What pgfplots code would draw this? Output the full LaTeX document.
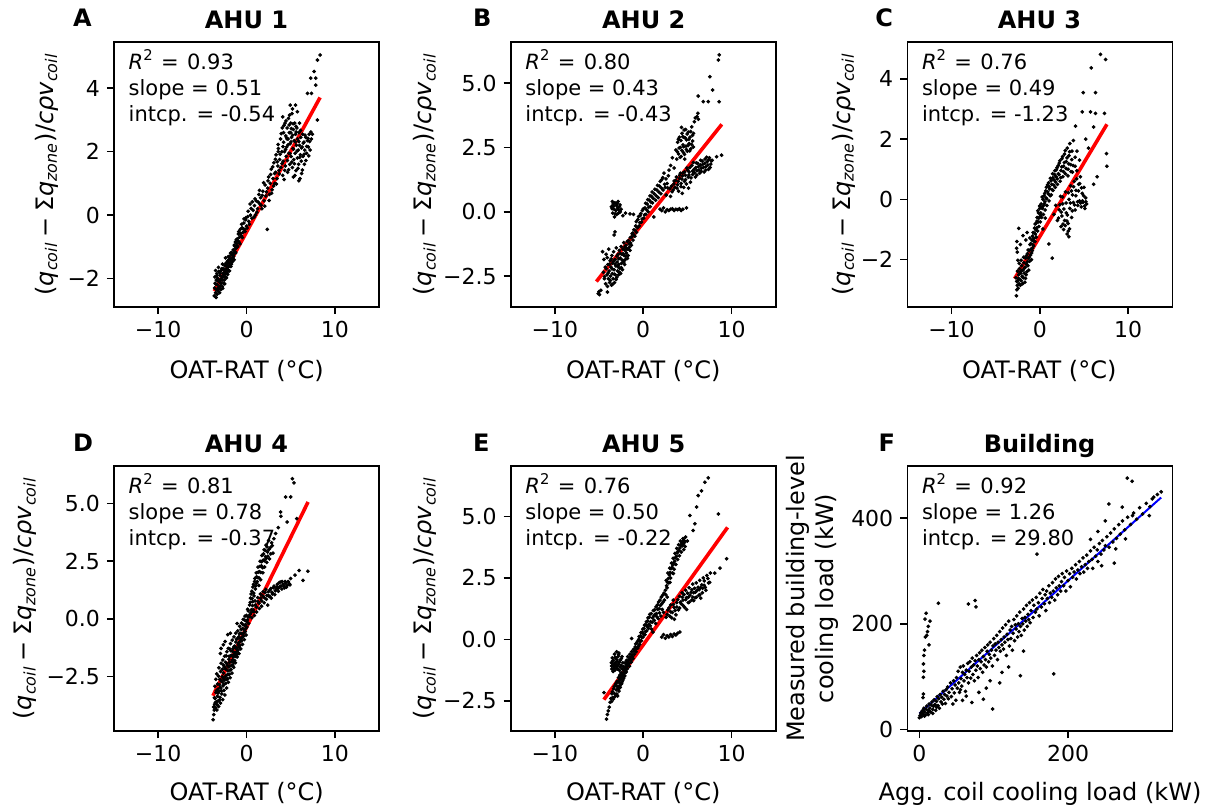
\documentclass[border=0pt]{standalone}
\usepackage{pgfplots}
\pgfplotsset{compat=1.18}
\usepackage{pgfplotstable}
\usepackage{fontspec}
\setmainfont{DejaVu Sans}

% ---------------- Panel A ----------------
\pgfplotstableread[row sep=\\]{
x y\\
-3.65 -2.55\\ -3.6 -2.3\\ -3.58 -1.95\\ -3.55 -2.15\\ -3.5 -2.45\\ -3.5 -1.75\\ -3.45 -2.6\\ -3.42 -2.05\\ -3.4 -2.35\\ -3.35 -1.85\\
-3.32 -2.5\\ -3.3 -2.2\\ -3.25 -2.0\\ -3.2 -2.4\\ -3.18 -1.65\\ -3.15 -2.28\\ -3.1 -2.1\\ -3.05 -2.45\\ -3.02 -1.9\\ -3.0 -2.25\\
-2.95 -2.05\\ -2.9 -2.35\\ -2.88 -1.75\\ -2.85 -2.15\\ -2.8 -1.95\\ -2.75 -2.25\\ -2.72 -1.55\\ -2.7 -2.05\\ -2.65 -1.85\\ -2.6 -2.15\\
-2.58 -1.7\\ -2.55 -1.95\\ -2.5 -2.05\\ -2.45 -1.6\\ -2.42 -1.85\\ -2.38 -1.35\\ -2.35 -1.95\\ -2.3 -1.7\\ -2.25 -1.55\\ -2.2 -1.8\\
-2.15 -1.45\\ -2.1 -1.65\\ -2.05 -1.75\\ -2.0 -1.4\\ -1.95 -1.6\\ -1.9 -1.3\\ -1.85 -1.5\\ -1.8 -1.2\\ -1.75 -1.4\\ -1.7 -1.55\\
-1.62 -1.25\\ -1.55 -1.35\\ -1.5 -1.1\\ -1.45 -1.3\\ -1.38 -0.95\\ -1.3 -1.15\\ -1.25 -0.85\\ -1.2 -1.05\\ -1.12 -0.9\\ -1.05 -0.75\\
-1.0 -1.0\\ -0.92 -0.6\\ -0.85 -0.85\\ -0.78 -0.7\\ -0.7 -0.45\\ -0.6 -0.65\\ -0.5 -0.4\\ -0.42 -0.55\\ -0.3 -0.25\\ -0.2 -0.45\\
-0.1 -0.15\\ 0.0 -0.35\\ 0.15 -0.05\\ 0.25 -0.2\\ 0.4 0.35\\ 0.45 0.0\\ 0.6 -0.1\\ 0.75 0.15\\ 0.9 0.3\\ 1.0 0.0\\
1.1 0.45\\ 1.25 0.2\\ 1.4 0.65\\ 1.5 0.35\\ 1.6 0.55\\ 1.75 0.2\\ 1.85 0.75\\ 2.0 0.45\\ 2.1 0.95\\ 2.2 0.6\\
2.35 -0.45\\ 2.4 0.85\\ 2.5 1.2\\ 2.6 0.65\\ 2.7 1.0\\ 2.8 1.45\\ 2.9 0.8\\ 3.0 1.15\\ 3.1 1.65\\ 3.2 1.0\\
3.3 1.35\\ 3.35 1.9\\ 3.45 1.15\\ 3.55 1.55\\ 3.6 2.1\\ 3.7 1.3\\ 3.75 1.75\\ 3.85 2.4\\ 3.9 1.5\\ 4.0 2.0\\
4.05 2.75\\ 4.1 1.25\\ 4.15 1.7\\ 4.2 2.3\\ 4.3 2.0\\ 4.35 2.9\\ 4.4 1.55\\ 4.45 2.5\\ 4.5 1.85\\ 4.55 2.15\\
4.6 2.75\\ 4.65 1.35\\ 4.7 2.4\\ 4.75 3.05\\ 4.8 1.95\\ 4.85 2.6\\ 4.9 1.6\\ 4.95 2.25\\ 5.0 2.9\\ 5.05 1.85\\
5.1 2.45\\ 5.15 3.2\\ 5.2 1.5\\ 5.25 2.1\\ 5.3 2.7\\ 5.35 1.75\\ 5.4 2.35\\ 5.45 2.9\\ 5.5 1.95\\ 5.55 2.55\\
5.6 1.4\\ 5.65 2.2\\ 5.7 2.75\\ 5.75 1.8\\ 5.8 2.4\\ 5.85 2.05\\ 5.9 1.6\\ 5.95 2.6\\ 6.0 2.2\\ 6.05 1.15\\
6.1 1.9\\ 6.15 2.45\\ 6.2 1.7\\ 6.3 2.15\\ 6.35 2.55\\ 6.4 1.85\\ 6.5 2.3\\ 6.55 1.6\\ 6.6 2.05\\ 6.7 2.45\\
6.8 1.95\\ 6.9 2.35\\ 7.0 2.15\\ 7.1 2.55\\ 7.2 2.05\\ 7.35 2.4\\ 7.45 2.55\\ 4.6 2.4\\ 5.0 2.6\\ 5.3 1.2\\
5.6 2.8\\ 6.0 2.9\\ 4.2 2.6\\ 3.6 2.0\\ 4.95 3.47\\ 5.55 3.47\\ 5.75 3.26\\ 5.2 3.35\\ 6.9 3.84\\ 7.35 3.84\\
7.27 4.32\\ 7.84 4.32\\ 7.84 4.1\\ 7.65 4.53\\ 8.03 4.89\\ 8.33 5.05\\ 8.03 3.0\\ 4.1 3.1\\
-3.47 -2.18\\ -3.38 -1.92\\ -3.29 -2.33\\ -3.21 -2.07\\ -3.13 -1.78\\ -3.07 -2.31\\ -2.97 -1.83\\ -2.93 -2.14\\ -2.83 -2.02\\ -2.77 -1.69\\
-2.69 -2.31\\ -2.63 -1.93\\ -2.53 -1.81\\ -2.47 -2.17\\ -2.39 -1.74\\ -2.33 -1.52\\ -2.27 -1.98\\ -2.19 -1.63\\ -2.13 -1.87\\ -2.07 -1.31\\
-1.97 -1.52\\ -1.92 -1.76\\ -1.83 -1.39\\ -1.77 -1.62\\ -1.68 -1.18\\ -1.58 -1.47\\ -1.49 -1.23\\ -1.41 -1.41\\ -1.33 -0.98\\ -1.22 -1.19\\
-1.16 -0.78\\ -1.08 -0.97\\ -0.97 -0.81\\ -0.88 -0.52\\ -0.74 -0.91\\ -0.66 -0.58\\ -0.55 -0.29\\ -0.47 -0.71\\ -0.36 -0.44\\ -0.27 -0.12\\
-0.16 -0.52\\ -0.06 -0.08\\ 0.07 -0.41\\ 0.18 0.12\\ 0.33 -0.29\\ 0.52 0.21\\ 0.66 0.42\\ 0.83 -0.07\\ 0.96 0.51\\ 1.17 0.09\\
1.33 0.41\\ 1.47 0.78\\ 1.66 0.31\\ 1.79 0.62\\ 1.93 1.02\\ 2.07 0.28\\ 2.26 0.73\\ 2.44 1.08\\ 2.56 0.46\\ 2.73 1.28\\
2.84 0.69\\ 2.97 1.52\\ 3.07 0.92\\ 3.18 1.31\\ 3.27 1.76\\ 3.39 0.98\\ 3.48 1.68\\ 3.58 2.23\\ 3.67 1.41\\ 3.81 1.92\\
3.93 2.57\\ 4.02 1.62\\ 4.13 2.16\\ 4.24 2.83\\ 4.32 1.41\\ 4.42 2.07\\ 4.53 2.44\\ 4.63 1.72\\ 4.72 2.22\\ 4.83 2.84\\
4.92 1.94\\ 5.03 2.31\\ 5.12 1.67\\ 5.22 2.52\\ 5.33 2.08\\ 5.42 1.62\\ 5.52 2.31\\ 5.62 2.62\\ 5.72 2.02\\ 5.83 1.47\\
5.92 2.32\\ 6.02 1.82\\ 6.12 2.67\\ 6.22 2.12\\ 6.33 1.42\\ 6.42 2.27\\ 6.52 1.92\\ 6.62 2.52\\ 6.72 1.72\\ 6.82 2.17\\
6.95 2.42\\ 7.05 1.87\\ 7.15 2.32\\ 7.28 2.62\\ 4.47 2.97\\ 4.87 3.15\\ 5.07 2.73\\ 5.28 2.88\\ 4.26 1.12\\ 4.78 1.43\\
5.47 1.25\\ 5.93 1.08\\ 6.24 1.31\\
}\dataA

% ---------------- Panel B ----------------
\pgfplotstableread[row sep=\\]{
x y\\
-5.1 -3.18\\ -5.0 -3.1\\ -4.95 -3.22\\ -4.8 -3.05\\ -4.05 -3.12\\
-4.6 -1.55\\ -4.5 -2.35\\ -4.45 -1.85\\ -4.4 -2.6\\ -4.3 -2.15\\ -4.25 -2.8\\ -4.2 -1.65\\ -4.1 -2.45\\ -4.05 -2.9\\ -4.0 -2.05\\
-3.95 -2.6\\ -3.9 -1.45\\ -3.85 -2.3\\ -3.8 -2.75\\ -3.75 -1.9\\ -3.7 -2.5\\ -3.65 -2.15\\ -3.6 -2.85\\ -3.55 -1.7\\ -3.5 -2.4\\
-3.45 -2.0\\ -3.4 -2.6\\ -3.35 -1.55\\ -3.3 -2.25\\ -3.25 -2.75\\ -3.2 -1.85\\ -3.15 -2.45\\ -3.1 -2.1\\ -3.05 -1.4\\ -3.0 -2.55\\
-2.95 -1.95\\ -2.9 -2.3\\ -2.85 -1.65\\ -2.8 -2.45\\ -2.75 -2.05\\ -2.7 -1.5\\ -2.65 -2.2\\ -2.6 -1.8\\ -2.55 -2.4\\ -2.5 -1.35\\
-2.45 -2.0\\ -2.4 -1.65\\ -2.35 -2.25\\ -2.3 -1.45\\ -2.25 -1.9\\ -2.2 -1.2\\ -2.15 -1.7\\ -2.1 -2.05\\ -2.05 -1.5\\ -2.0 -1.85\\
-1.95 -1.3\\ -1.9 -1.6\\ -1.8 -1.15\\ -1.75 -1.45\\ -1.7 -1.7\\ -1.6 -1.25\\ -1.5 -1.5\\ -1.45 -1.0\\ -1.35 -1.3\\ -1.25 -0.85\\
-1.15 -1.1\\ -1.05 -0.7\\ -0.95 -0.95\\ -0.85 -0.55\\ -0.75 -0.8\\ -3.3 -0.9\\ -3.2 -0.78\\
-3.6 0.2\\ -3.5 0.4\\ -3.45 -0.05\\ -3.4 0.3\\ -3.3 0.1\\ -3.25 -0.2\\ -3.2 0.35\\ -3.1 0.05\\ -3.05 0.25\\ -3.0 -0.1\\
-2.9 0.15\\ -2.85 0.4\\ -2.8 -0.05\\ -2.7 0.2\\ -2.6 0.0\\ -2.5 0.1\\ -2.3 -0.15\\ -2.0 -0.05\\ -1.5 -0.08\\ -1.1 -0.1\\
-0.6 -0.3\\ -0.45 -0.55\\ -0.35 -0.15\\ -0.2 -0.4\\ -0.1 0.05\\ 0.05 -0.25\\ 0.2 0.15\\ 0.3 -0.1\\ 0.45 0.3\\ 0.55 0.0\\
0.7 0.45\\ 0.8 0.2\\ 0.95 0.6\\ 1.05 0.35\\ 1.2 -0.2\\ 1.25 0.7\\ 1.4 0.45\\ 1.55 0.85\\ 1.7 0.55\\ 1.85 1.0\\
2.0 0.7\\ 2.1 1.25\\ 2.25 0.85\\ 2.35 1.5\\ 2.5 0.95\\ 2.6 0.65\\ 2.7 1.1\\ 2.85 1.4\\ 3.0 0.9\\
1.9 0.1\\ 2.1 0.05\\ 2.3 0.15\\ 2.5 0.0\\ 2.7 0.08\\ 2.9 0.05\\ 3.1 0.1\\ 3.3 0.12\\ 3.5 0.05\\ 3.7 0.1\\
3.9 0.08\\ 4.1 0.12\\ 4.3 0.05\\ 4.5 0.1\\ 4.9 0.15\\
3.1 1.8\\ 3.3 2.1\\ 3.5 1.7\\ 3.7 2.4\\ 3.8 2.05\\ 3.9 2.7\\ 4.0 2.25\\ 4.1 2.9\\ 4.2 2.5\\ 4.3 2.15\\
4.4 3.05\\ 4.5 2.6\\ 4.55 2.3\\ 4.6 2.9\\ 4.7 2.05\\ 4.8 3.2\\ 4.85 2.55\\ 4.9 2.8\\ 5.0 2.35\\ 5.1 3.1\\
5.2 2.65\\ 5.3 2.9\\ 5.4 2.45\\ 5.5 3.3\\ 5.6 2.75\\ 5.7 3.05\\ 5.8 3.5\\ 5.9 3.65\\ 6.1 3.7\\ 6.2 3.83\\ 6.25 3.6\\
3.1 0.6\\ 3.2 1.0\\ 3.4 0.85\\ 3.5 1.2\\ 3.6 0.95\\ 3.75 1.35\\ 3.9 1.05\\ 4.0 0.8\\ 4.1 1.3\\ 4.2 1.5\\
4.3 1.1\\ 4.45 1.4\\ 4.6 0.95\\ 4.7 1.55\\ 4.8 1.25\\ 4.95 1.7\\ 5.1 1.35\\ 5.2 1.55\\ 5.35 1.15\\ 5.5 1.8\\
5.6 1.45\\ 5.75 1.65\\ 5.9 1.35\\ 6.0 1.9\\ 6.1 1.6\\ 6.25 1.75\\ 6.4 1.5\\ 6.5 2.0\\ 6.6 1.7\\ 6.75 1.85\\
6.9 1.55\\ 7.0 2.05\\ 7.1 1.75\\ 7.25 1.95\\ 7.4 1.65\\ 7.5 2.1\\ 7.65 1.85\\ 7.8 2.0\\ 8.3 2.14\\ 8.87 2.2\\
6.23 4.5\\ 6.8 4.28\\ 7.36 4.28\\ 7.86 4.73\\ 7.55 5.25\\ 8.6 4.28\\ 8.6 6.1\\ 8.5 5.9\\
-4.37 -2.52\\ -4.18 -2.21\\ -4.07 -1.78\\ -3.97 -2.38\\ -3.82 -2.04\\ -3.73 -2.67\\ -3.63 -1.83\\ -3.53 -2.22\\ -3.47 -2.82\\ -3.38 -1.93\\
-3.28 -2.42\\ -3.17 -2.03\\ -3.07 -2.63\\ -2.97 -1.72\\ -2.87 -2.13\\ -2.78 -1.83\\ -2.68 -2.35\\ -2.58 -1.62\\ -2.48 -2.17\\ -2.38 -1.88\\
-2.28 -1.63\\ -2.18 -1.95\\ -2.08 -1.37\\ -1.98 -1.72\\ -1.87 -1.42\\ -1.78 -1.81\\ -1.67 -1.12\\ -1.57 -1.38\\ -1.42 -1.21\\ -1.32 -0.98\\
-1.18 -0.83\\ -1.02 -0.91\\ -0.91 -0.72\\ -0.78 -0.38\\ -0.64 -0.62\\ -0.52 -0.18\\ -0.38 -0.42\\ -0.27 -0.07\\ -0.13 -0.28\\ 0.02 0.12\\
0.14 -0.12\\ 0.27 0.33\\ 0.38 0.08\\ 0.52 0.47\\ 0.63 0.18\\ 0.77 0.62\\ 0.88 0.38\\ 1.02 0.77\\ 1.13 0.52\\ 1.32 0.88\\
1.47 0.62\\ 1.62 1.03\\ 1.78 0.77\\ 1.93 1.18\\ 2.07 0.92\\ 2.22 1.33\\ 2.42 1.07\\ 2.57 1.28\\ 2.77 0.93\\ 2.93 1.62\\
-3.52 0.12\\ -3.37 0.22\\ -3.18 -0.08\\ -2.97 0.32\\ -2.77 0.08\\ -2.63 0.27\\
3.87 2.33\\ 3.98 2.82\\ 4.08 2.48\\ 4.17 2.12\\ 4.27 2.77\\ 4.38 2.38\\ 4.47 2.92\\ 4.58 2.53\\ 4.68 2.23\\ 4.77 2.87\\
4.88 2.42\\ 4.97 3.02\\ 5.07 2.57\\ 5.18 2.82\\ 5.27 2.37\\ 5.38 3.12\\ 5.48 2.62\\ 5.58 2.97\\ 5.67 2.52\\ 4.33 3.28\\ 4.63 3.18\\
3.27 0.78\\ 3.47 1.08\\ 3.67 1.22\\ 3.83 0.92\\ 3.97 1.18\\ 4.13 1.42\\ 4.27 0.98\\ 4.38 1.27\\ 4.53 1.52\\ 4.67 1.18\\
4.78 1.42\\ 4.88 1.08\\ 5.03 1.62\\ 5.17 1.43\\ 5.28 1.72\\ 5.42 1.32\\ 5.57 1.58\\ 5.68 1.92\\ 5.82 1.52\\ 5.97 1.72\\
6.07 1.43\\ 6.18 1.88\\ 6.33 1.62\\ 6.47 1.82\\ 6.57 1.57\\ 6.68 1.97\\ 6.82 1.72\\ 6.97 1.88\\ 7.07 1.62\\ 7.18 2.12\\
7.32 1.82\\ 7.43 2.02\\ 7.58 1.72\\ 7.72 1.98\\ 5.13 0.92\\ 4.42 0.72\\
}\dataB

% ---------------- Panel C ----------------
\pgfplotstableread[row sep=\\]{
x y\\
-2.65 -3.2\\ -2.6 -3.0\\ -2.55 -2.85\\ -2.7 -2.6\\ -2.5 -2.7\\ -2.45 -2.95\\ -2.4 -2.5\\ -2.35 -2.8\\ -2.3 -2.3\\ -2.25 -2.65\\
-2.2 -2.85\\ -2.15 -2.45\\ -2.1 -2.7\\ -2.05 -2.2\\ -2.0 -2.55\\ -1.95 -2.8\\ -1.9 -2.35\\ -1.85 -2.6\\ -1.8 -2.1\\ -1.75 -2.45\\
-1.7 -2.75\\ -1.65 -2.25\\ -1.6 -1.95\\ -1.55 -2.5\\ -1.5 -2.15\\ -1.45 -2.4\\ -1.4 -1.8\\ -1.35 -2.2\\ -1.3 -1.95\\ -1.25 -2.35\\
-1.2 -1.7\\ -1.15 -2.05\\ -1.1 -1.5\\ -1.05 -1.85\\ -1.0 -1.65\\ -0.95 -2.0\\ -0.9 -1.35\\ -0.85 -1.7\\ -0.8 -1.5\\ -0.75 -1.1\\
-0.7 -1.55\\ -0.65 -1.3\\ -0.6 -0.95\\ -0.55 -1.4\\ -0.5 -1.15\\ -0.45 -0.8\\ -0.4 -1.25\\ -0.35 -0.95\\ -0.3 -0.6\\ -0.25 -1.05\\
-0.2 -0.75\\ -0.15 -0.45\\ -0.1 -0.9\\ -0.05 -0.6\\ 0.0 -0.3\\ 0.05 -0.75\\ 0.1 -0.45\\ 0.15 -0.15\\ 0.2 -0.6\\ 0.3 -0.3\\
0.35 0.0\\ 0.4 -0.5\\ 0.5 -0.15\\ 0.55 0.2\\ 0.6 -0.35\\ 0.7 0.05\\ 0.75 0.4\\ 0.8 -0.2\\ 0.9 0.25\\ 1.0 0.55\\
1.05 -0.05\\ 1.1 0.35\\ 1.2 0.7\\ 1.3 0.15\\ 1.35 0.5\\ 1.45 0.85\\ 1.5 0.3\\ 1.6 0.65\\ 1.7 0.95\\ 1.75 0.4\\
1.85 0.75\\ 1.95 1.05\\ 2.0 0.5\\ 2.1 0.85\\ 2.2 1.2\\ 2.3 0.6\\ 2.4 0.95\\ 2.5 1.35\\ 2.6 0.75\\ 2.7 1.1\\
2.8 1.5\\ 2.9 0.85\\ 3.0 1.25\\ 3.1 1.7\\ 3.2 1.0\\ 3.3 1.45\\ 3.4 1.85\\ 3.5 1.15\\ 3.65 1.6\\ 3.8 1.95\\
4.0 1.4\\ 4.05 2.43\\ -2.38 -0.96\\ -1.43 -1.1\\ -2.6 -1.4\\ -2.55 -1.75\\ -2.2 -1.5\\ -1.9 -1.2\\ 1.02 -1.48\\ 1.4 -1.95\\
1.6 -0.5\\ 1.8 -0.2\\ 2.0 -0.7\\ 2.2 -0.35\\ 2.35 0.1\\ 2.4 -0.9\\ 2.5 -0.55\\ 2.6 -0.15\\ 2.7 -1.0\\ 2.8 -0.7\\
2.9 0.25\\ 3.0 -0.45\\ 3.1 -1.15\\ 3.2 -0.8\\ 3.3 -1.24\\ 3.3 0.0\\ 3.4 -0.3\\ 3.5 0.45\\ 3.6 -0.6\\ 3.7 0.15\\
3.8 -0.1\\ 3.9 0.6\\ 4.0 -0.35\\ 4.1 0.3\\ 4.2 0.95\\ 4.3 -0.2\\ 4.4 0.5\\ 4.5 -0.05\\ 4.6 0.75\\ 4.7 -0.25\\
4.8 0.2\\ 4.9 -0.1\\ 5.0 0.4\\ 5.1 -0.3\\ 5.2 0.05\\ 5.3 -0.15\\ 4.5 1.3\\ 4.2 1.6\\ 3.7 0.9\\ 4.0 1.1\\
6.87 4.81\\ 7.44 4.64\\ 5.82 4.36\\ 4.91 3.54\\ 6.31 3.54\\ 4.8 2.9\\ 5.74 2.9\\ 6.3 2.85\\ 7.32 2.85\\ 6.1 2.4\\
7.55 1.52\\ 7.6 1.1\\ 6.5 0.75\\ 6.1 0.5\\ 5.5 1.7\\ 5.2 2.0\\
-2.62 -2.72\\ -2.53 -2.38\\ -2.42 -2.62\\ -2.33 -2.12\\ -2.23 -2.42\\ -2.12 -2.02\\ -2.03 -2.36\\ -1.93 -2.58\\ -1.82 -1.92\\ -1.73 -2.28\\
-1.62 -2.62\\ -1.53 -1.87\\ -1.42 -2.07\\ -1.32 -1.68\\ -1.22 -1.93\\ -1.12 -1.28\\ -1.02 -1.47\\ -0.92 -1.78\\ -0.83 -1.22\\ -0.72 -1.38\\
-0.62 -1.12\\ -0.53 -0.82\\ -0.42 -1.02\\ -0.32 -0.72\\ -0.22 -0.38\\ -0.12 -0.62\\ -0.03 -0.22\\ 0.08 -0.52\\ 0.18 -0.28\\ 0.27 0.08\\
0.38 -0.22\\ 0.48 0.12\\ 0.58 -0.08\\ 0.68 0.28\\ 0.78 0.02\\ 0.88 0.48\\ 0.97 0.18\\ 1.08 0.42\\ 1.18 0.12\\ 1.28 0.62\\
1.38 0.32\\ 1.48 0.72\\ 1.58 0.47\\ 1.68 0.82\\ 1.78 0.58\\ 1.88 0.98\\ 1.98 0.68\\ 2.08 1.12\\ 2.18 0.82\\ 2.28 1.28\\
2.38 0.72\\ 2.48 1.08\\ 2.58 1.42\\ 2.68 0.92\\ 2.78 1.22\\ 2.88 1.62\\ 2.98 1.02\\ 3.08 1.38\\ 3.18 0.78\\ 3.28 1.18\\
3.38 1.58\\ 3.52 0.92\\ 3.62 1.32\\ 3.77 1.12\\
2.12 -0.62\\ 2.28 -0.18\\ 2.43 -0.42\\ 2.58 0.08\\ 2.72 -0.32\\ 2.87 -0.87\\ 2.97 -0.12\\ 3.12 -0.52\\ 3.23 0.22\\ 3.37 -0.98\\
3.47 -0.12\\ 3.58 0.28\\ 3.68 -0.38\\ 3.82 0.42\\ 3.93 -0.18\\ 4.07 0.12\\ 4.18 0.68\\ 4.28 -0.08\\ 4.38 0.28\\ 4.52 0.52\\
4.62 -0.12\\ 4.72 0.38\\ 4.83 -0.05\\ 4.97 0.12\\ 5.08 -0.22\\ 5.22 -0.08\\ 3.22 -1.05\\ 3.07 -0.72\\ 2.62 -0.82\\
-2.62 -1.62\\ -2.48 -2.02\\ -1.58 -1.35\\ -0.85 -1.62\\ 0.35 -0.98\\ 0.62 -0.62\\
}\dataC

% ---------------- Panel D ----------------
\pgfplotstableread[row sep=\\]{
x y\\
-3.78 -4.37\\ -3.7 -4.15\\ -3.65 -3.95\\ -3.6 -3.7\\ -3.55 -3.45\\ -3.5 -3.85\\ -3.45 -3.2\\ -3.4 -3.6\\ -3.35 -3.95\\ -3.3 -3.35\\
-3.25 -3.05\\ -3.2 -3.55\\ -3.15 -3.8\\ -3.1 -3.15\\ -3.05 -2.85\\ -3.0 -3.4\\ -2.95 -1.5\\ -2.95 -3.65\\ -2.9 -3.0\\ -2.85 -2.7\\
-2.8 -3.25\\ -2.75 -2.5\\ -2.7 -3.5\\ -2.65 -2.9\\ -2.6 -2.35\\ -2.55 -3.1\\ -2.5 -2.65\\ -2.45 -3.3\\ -2.4 -2.15\\ -2.35 -2.8\\
-2.3 -2.45\\ -2.25 -3.0\\ -2.2 -1.95\\ -2.15 -2.6\\ -2.1 -2.25\\ -2.05 -2.75\\ -2.0 -1.75\\ -1.95 -2.4\\ -1.9 -2.05\\ -1.85 -2.55\\
-1.82 -1.07\\ -1.8 -1.6\\ -1.75 -2.2\\ -1.7 -1.85\\ -1.65 -2.35\\ -1.6 -1.4\\ -1.55 -2.0\\ -1.5 -1.65\\ -1.45 -2.1\\ -1.4 -1.2\\
-1.35 -1.8\\ -1.3 -1.45\\ -1.25 -1.9\\ -1.2 -1.0\\ -1.15 -1.55\\ -1.1 -1.25\\ -1.06 -0.2\\ -1.05 -1.65\\ -1.0 -0.85\\ -0.95 -1.35\\
-0.9 -1.05\\ -0.85 -1.5\\ -0.8 -0.65\\ -0.75 -1.15\\ -0.7 -0.85\\ -0.65 -1.3\\ -0.6 -0.45\\ -0.55 -0.95\\ -0.5 -0.65\\ -0.45 -1.1\\
-0.4 -0.25\\ -0.35 -0.75\\ -0.3 -0.45\\ -0.25 -0.9\\ -0.2 -0.05\\ -0.15 -0.55\\ -0.1 -0.25\\ -0.05 -0.7\\ 0.0 0.15\\ 0.05 -0.35\\
0.1 -0.05\\ 0.2 0.35\\ 0.25 -0.2\\ 0.3 0.1\\ -2.6 -2.0\\ -2.3 -1.6\\ -1.9 -1.3\\
0.35 0.6\\ 0.45 0.9\\ 0.55 0.4\\ 0.6 1.2\\ 0.7 0.75\\ 0.8 1.5\\ 0.85 1.0\\ 0.95 1.75\\ 1.0 1.3\\ 1.1 2.0\\
1.15 1.55\\ 1.25 1.8\\ 1.3 2.25\\ 1.4 1.45\\ 1.45 2.05\\ 1.55 2.5\\ 1.6 1.7\\ 1.7 2.3\\ 1.75 2.75\\ 1.85 2.0\\
1.9 2.55\\ 2.0 3.0\\ 2.05 2.25\\ 2.15 2.7\\ 2.2 3.2\\ 2.3 2.45\\ 2.4 2.9\\ 2.5 3.4\\ 2.6 2.6\\ 2.7 3.1\\
2.85 3.3\\ 3.0 2.85\\ 3.1 3.48\\
0.4 0.2\\ 0.6 0.05\\ 0.75 0.4\\ 0.9 0.15\\ 1.0 0.6\\ 1.15 0.3\\ 1.3 0.75\\ 1.45 0.45\\ 1.6 0.9\\ 1.7 0.55\\
1.85 1.0\\ 2.0 0.7\\ 2.1 1.15\\ 2.25 0.85\\ 2.4 0.6\\ 2.5 1.0\\ 2.65 1.25\\ 2.8 0.9\\ 2.9 1.15\\ 3.05 1.35\\
3.2 1.05\\ 3.35 1.3\\ 3.5 1.5\\ 3.6 1.2\\ 3.75 1.4\\ 3.9 1.6\\ 4.0 1.3\\ 4.15 1.5\\ 4.3 1.35\\ 4.45 1.55\\
4.6 1.45\\ 4.85 1.53\\ 5.0 1.75\\ 5.95 2.1\\ 6.95 2.07\\ 6.4 1.67\\ 5.5 1.9\\
5.19 6.08\\ 5.37 5.9\\ 4.43 5.29\\ 5.0 5.29\\ 3.86 4.64\\ 3.9 4.45\\ 4.6 4.2\\ 5.68 4.35\\ 3.6 3.96\\ 3.3 3.7\\
-3.72 -3.82\\ -3.63 -3.42\\ -3.58 -2.92\\ -3.52 -3.62\\ -3.47 -2.62\\ -3.43 -3.12\\ -3.37 -2.38\\ -3.33 -3.72\\ -3.27 -2.82\\ -3.22 -3.22\\
-3.17 -2.48\\ -3.12 -2.12\\ -3.07 -3.52\\ -3.03 -2.62\\ -2.98 -2.97\\ -2.93 -2.28\\ -2.87 -1.92\\ -2.83 -3.12\\ -2.78 -2.72\\ -2.73 -2.18\\
-2.68 -1.78\\ -2.63 -2.58\\ -2.57 -2.82\\ -2.52 -2.08\\ -2.47 -1.62\\ -2.42 -2.52\\ -2.37 -1.88\\ -2.32 -2.18\\ -2.27 -2.62\\ -2.22 -1.42\\
-2.17 -2.02\\ -2.12 -2.42\\ -2.07 -1.28\\ -2.02 -2.08\\ -1.97 -1.62\\ -1.92 -1.88\\ -1.87 -2.22\\ -1.78 -1.38\\ -1.72 -2.02\\ -1.67 -1.58\\
-1.62 -0.92\\ -1.57 -1.78\\ -1.52 -1.28\\ -1.47 -1.88\\ -1.42 -0.78\\ -1.37 -1.52\\ -1.32 -1.18\\ -1.27 -1.62\\ -1.22 -0.62\\ -1.17 -1.28\\
-1.12 -0.88\\ -1.07 -1.42\\ -0.98 -0.52\\ -0.93 -1.12\\ -0.87 -0.78\\ -0.82 -1.22\\ -0.77 -0.32\\ -0.72 -0.98\\ -0.63 -0.62\\ -0.57 -0.18\\
-0.52 -0.82\\ -0.43 -0.42\\ -0.38 -0.02\\ -0.32 -0.62\\ -0.22 -0.28\\ -0.17 0.12\\ -0.08 -0.42\\ 0.03 -0.12\\ 0.12 0.42\\ 0.18 0.08\\
-2.88 -1.28\\ -2.62 -1.12\\ -2.42 -0.98\\ -2.12 -0.68\\ -1.82 -0.62\\
0.42 0.72\\ 0.52 1.08\\ 0.63 0.88\\ 0.72 1.38\\ 0.82 1.12\\ 0.92 1.62\\ 1.02 1.42\\ 1.12 1.82\\ 1.22 1.62\\ 1.32 2.02\\
1.42 1.78\\ 1.52 2.28\\ 1.62 2.02\\ 1.72 2.48\\ 1.82 2.22\\ 1.92 2.82\\ 2.02 2.52\\ 2.12 2.97\\ 2.22 2.62\\ 2.32 3.12\\
2.42 2.72\\ 2.55 3.02\\ 2.75 2.82\\ 2.92 3.18\\
0.52 0.28\\ 0.68 0.58\\ 0.82 0.32\\ 0.97 0.78\\ 1.12 0.52\\ 1.27 0.92\\ 1.42 0.68\\ 1.57 1.08\\ 1.72 0.78\\ 1.88 1.18\\
2.03 0.92\\ 2.18 1.28\\ 2.33 1.02\\ 2.48 1.18\\ 2.62 0.98\\ 2.77 1.32\\ 2.92 1.08\\ 3.12 1.42\\ 3.27 1.22\\ 3.42 1.38\\
3.58 1.32\\ 3.72 1.58\\ 3.88 1.42\\ 4.03 1.62\\ 4.22 1.42\\ 4.38 1.62\\ 4.52 1.38\\ 4.72 1.62\\ 4.92 1.48\\
}\dataD

% ---------------- Panel E ----------------
\pgfplotstableread[row sep=\\]{
x y\\
-4.15 -3.24\\ -4.05 -3.05\\ -3.95 -2.9\\ -3.85 -2.75\\ -3.75 -2.55\\ -4.45 -2.16\\
-3.6 -0.95\\ -3.55 -1.2\\ -3.5 -0.75\\ -3.45 -1.05\\ -3.4 -1.3\\ -3.35 -0.85\\ -3.3 -1.1\\ -3.25 -0.6\\ -3.2 -1.25\\ -3.15 -0.95\\
-3.1 -0.75\\ -3.05 -1.15\\ -3.0 -0.5\\ -2.95 -0.9\\ -2.9 -1.2\\ -2.85 -0.7\\ -2.8 -1.0\\ -2.75 -0.55\\ -2.7 -1.25\\ -2.6 -0.85\\
-2.5 -1.05\\ -2.4 -0.7\\ -2.3 -0.95\\
-3.65 -2.4\\ -3.55 -2.2\\ -3.45 -2.35\\ -3.35 -2.0\\ -3.25 -2.2\\ -3.15 -1.85\\ -3.05 -2.05\\ -2.95 -1.7\\ -2.9 -2.3\\ -2.85 -1.9\\
-2.8 -1.55\\ -2.75 -2.1\\ -2.7 -1.75\\ -2.65 -1.45\\ -2.6 -1.95\\ -2.55 -1.6\\ -2.5 -1.35\\ -2.45 -1.8\\ -2.4 -1.5\\ -2.35 -1.2\\
-2.3 -1.65\\ -2.25 -1.4\\ -2.2 -1.1\\ -2.15 -1.5\\ -2.1 -1.25\\ -2.05 -0.95\\ -2.0 -1.35\\ -1.95 -1.1\\ -1.9 -0.85\\ -1.85 -1.2\\
-1.8 -0.95\\ -1.75 -0.7\\ -1.7 -1.05\\ -1.6 -0.8\\ -1.5 -0.6\\ -1.4 -0.85\\ -1.3 -0.5\\ -1.2 -0.7\\ -1.1 -0.4\\ -1.0 -0.6\\
-1.3 0.04\\ -0.9 -0.3\\ -0.8 -0.5\\ -0.7 -0.15\\ -0.6 -0.35\\ -0.5 0.0\\ -0.4 -0.2\\ -0.3 0.15\\ -0.2 -0.05\\ -0.1 0.3\\
0.0 0.1\\ 0.1 0.45\\ 0.2 0.2\\ 0.3 0.6\\ 0.4 0.35\\ 0.5 0.75\\ 0.6 0.45\\ 0.7 0.9\\ 0.8 0.55\\ 0.9 1.05\\
1.0 0.7\\ 1.1 0.3\\ 1.2 0.95\\ 1.3 1.2\\ 1.4 0.65\\ 1.5 1.05\\ 1.6 1.4\\ 1.7 0.85\\ 1.8 1.25\\ 1.9 1.6\\
2.0 0.95\\ 2.1 1.45\\ 2.2 1.8\\ 2.3 1.1\\ 2.4 1.6\\
2.1 0.1\\ 2.3 0.2\\ 2.5 0.05\\ 2.7 0.15\\ 2.9 0.1\\ 3.1 0.2\\ 3.3 0.12\\ 3.5 0.22\\ 3.7 0.18\\ 3.9 0.25\\ 4.15 0.3\\
2.5 2.0\\ 2.6 2.4\\ 2.7 2.1\\ 2.8 2.7\\ 2.9 2.3\\ 3.0 2.9\\ 3.1 2.5\\ 3.2 3.1\\ 3.3 2.7\\ 3.4 3.3\\
3.5 2.85\\ 3.6 3.5\\ 3.7 3.05\\ 3.8 3.7\\ 3.9 3.25\\ 4.0 3.85\\ 4.1 3.4\\ 4.2 4.0\\ 4.3 3.55\\ 4.4 3.8\\
4.5 4.1\\ 4.6 3.65\\ 4.7 3.95\\ 4.8 4.16\\ 5.0 4.0\\ 5.29 5.04\\ 5.66 4.43\\ 5.85 4.7\\ 6.05 5.38\\ 6.23 5.85\\
6.6 6.04\\ 6.99 6.39\\ 7.36 6.57\\ 8.5 5.1\\
2.6 0.9\\ 2.8 1.2\\ 3.0 0.95\\ 3.1 1.4\\ 3.3 1.1\\ 3.4 1.6\\ 3.5 1.3\\ 3.7 1.0\\ 3.8 1.5\\ 4.0 1.2\\
4.1 1.75\\ 4.3 1.45\\ 4.4 1.9\\ 4.5 1.6\\ 4.7 1.3\\ 4.8 2.0\\ 4.9 1.7\\ 5.1 1.5\\ 5.2 2.1\\ 5.3 1.8\\
5.5 1.6\\ 5.6 2.25\\ 5.7 1.9\\ 5.9 1.7\\ 6.0 2.3\\ 6.1 2.0\\ 6.3 1.8\\ 6.4 2.4\\ 6.5 2.1\\ 6.7 1.9\\
6.8 2.5\\ 6.9 2.2\\ 7.1 2.0\\ 7.2 2.6\\ 7.4 2.3\\ 7.6 2.7\\ 8.1 2.7\\ 8.7 2.9\\ 9.44 3.28\\
-3.58 -2.52\\ -3.48 -2.12\\ -3.38 -2.42\\ -3.28 -1.92\\ -3.18 -2.32\\ -3.08 -1.78\\ -2.98 -2.22\\ -2.92 -1.92\\ -2.82 -2.02\\ -2.78 -1.72\\
-2.68 -1.92\\ -2.62 -1.62\\ -2.52 -1.82\\ -2.48 -1.52\\ -2.38 -1.72\\ -2.32 -1.42\\ -2.22 -1.58\\ -2.18 -1.28\\ -2.08 -1.48\\ -2.02 -1.18\\
-1.92 -1.32\\ -1.88 -1.02\\ -1.78 -1.18\\ -1.72 -0.88\\ -1.62 -0.98\\ -1.55 -1.08\\ -1.45 -0.72\\ -1.35 -0.92\\ -1.25 -0.62\\ -1.15 -0.78\\
-1.05 -0.48\\ -3.58 -1.08\\ -3.48 -0.88\\ -3.38 -1.18\\ -3.28 -0.98\\ -3.18 -0.72\\ -3.08 -1.02\\ -2.98 -0.82\\ -2.88 -1.08\\ -2.78 -0.62\\
-2.68 -0.92\\ -2.58 -1.12\\ -2.48 -0.78\\
-0.95 -0.42\\ -0.85 -0.18\\ -0.75 -0.38\\ -0.65 -0.08\\ -0.55 -0.28\\ -0.45 0.12\\ -0.35 -0.08\\ -0.25 0.28\\ -0.15 0.08\\ -0.05 0.42\\
0.05 0.22\\ 0.15 0.58\\ 0.25 0.32\\ 0.35 0.72\\ 0.45 0.52\\ 0.55 0.88\\ 0.65 0.62\\ 0.75 1.02\\ 0.85 0.72\\ 0.95 0.42\\
1.05 0.88\\ 1.15 1.18\\ 1.25 0.78\\ 1.35 1.02\\ 1.45 1.32\\ 1.55 0.92\\ 1.65 1.22\\ 1.75 1.52\\ 1.85 1.08\\ 1.95 1.38\\
2.05 1.72\\ 2.15 1.22\\ 2.25 1.52\\ 2.35 1.88\\
2.55 1.82\\ 2.65 2.18\\ 2.75 2.32\\ 2.85 2.48\\ 2.95 2.62\\ 3.05 2.72\\ 3.15 2.88\\ 3.25 2.92\\ 3.35 3.02\\ 3.45 3.12\\
3.55 3.18\\ 3.65 3.32\\ 3.75 3.38\\ 3.85 3.52\\ 3.95 3.58\\ 4.05 3.62\\ 4.15 3.72\\ 4.25 3.82\\ 4.35 3.92\\ 4.45 3.98\\
4.55 3.88\\ 4.65 4.02\\ 4.75 3.78\\ 2.72 1.72\\ 3.02 2.32\\ 3.42 2.68\\
2.72 1.02\\ 2.92 1.28\\ 3.12 1.12\\ 3.22 0.88\\ 3.42 1.42\\ 3.62 1.18\\ 3.82 1.32\\ 3.92 1.62\\ 4.12 1.28\\ 4.22 1.52\\
4.42 1.72\\ 4.52 1.38\\ 4.62 1.82\\ 4.82 1.62\\ 5.02 1.88\\ 5.12 1.72\\ 5.22 1.52\\ 5.42 1.92\\ 5.52 2.02\\ 5.62 1.72\\
5.82 2.08\\ 5.92 1.92\\ 6.02 1.72\\ 6.22 2.12\\ 6.32 2.02\\ 6.42 1.82\\ 6.62 2.22\\ 6.72 2.08\\ 6.92 2.38\\ 7.02 2.12\\
7.32 2.48\\ 7.52 2.32\\ 4.92 1.22\\ 5.72 1.58\\ 6.52 1.68\\ 3.52 0.82\\
}\dataE

% ---------------- Panel F ----------------
\pgfplotstableread[row sep=\\]{
x y\\
0 22\\ 1 26\\ 2 31\\ 3 24\\ 4 35\\ 5 28\\ 6 40\\ 7 33\\ 8 27\\ 9 38\\
10 44\\ 11 31\\ 12 36\\ 13 48\\ 14 40\\ 15 33\\ 16 46\\ 17 52\\ 18 38\\ 19 44\\
20 56\\ 21 47\\ 22 36\\ 23 53\\ 24 62\\ 25 45\\ 26 58\\ 27 40\\ 28 66\\ 29 52\\
30 61\\ 31 48\\ 32 72\\ 33 57\\ 34 66\\ 35 49\\ 36 75\\ 37 63\\ 38 80\\ 39 58\\
40 70\\ 42 88\\ 43 62\\ 44 77\\ 46 92\\ 47 69\\ 48 84\\ 49 55\\ 50 98\\ 51 78\\
52 110\\ 53 88\\ 54 70\\ 55 118\\ 56 96\\ 57 82\\ 58 108\\ 59 120\\ 60 92\\ 61 104\\
62 72\\ 63 112\\ 64 98\\ 65 125\\ 66 88\\ 67 110\\ 68 128\\ 69 97\\ 70 118\\ 71 135\\
72 104\\ 73 122\\ 74 92\\ 75 130\\ 76 112\\ 77 140\\ 78 120\\ 79 98\\ 80 132\\ 81 145\\
82 115\\ 83 128\\ 84 150\\ 85 108\\ 86 138\\ 87 122\\ 88 155\\ 89 132\\ 90 118\\ 91 148\\
92 160\\ 93 128\\ 94 142\\ 95 165\\ 96 135\\ 97 150\\ 98 120\\ 99 158\\ 100 172\\ 101 140\\
102 162\\ 103 150\\ 104 178\\ 105 132\\ 106 165\\ 107 155\\ 108 185\\ 109 148\\ 110 170\\ 111 160\\
112 192\\ 113 152\\ 114 175\\ 115 165\\ 116 198\\ 117 140\\ 118 180\\ 119 170\\ 120 205\\ 121 158\\
122 188\\ 123 172\\ 124 195\\ 125 150\\ 126 182\\ 127 208\\ 128 168\\ 129 198\\ 130 190\\ 131 215\\
132 175\\ 133 200\\ 134 185\\ 135 222\\ 136 195\\ 137 178\\ 138 210\\ 139 200\\ 140 228\\ 141 188\\
142 212\\ 143 205\\ 144 235\\ 145 195\\ 146 218\\ 147 208\\ 148 240\\ 149 202\\ 150 225\\ 152 245\\
153 212\\ 154 235\\ 156 222\\ 157 250\\ 158 228\\ 160 240\\ 161 215\\ 162 258\\ 164 232\\ 165 248\\
166 265\\ 168 238\\ 169 255\\ 170 225\\ 171 262\\ 172 248\\ 174 272\\ 175 240\\ 176 258\\ 178 250\\
179 278\\ 180 262\\ 182 245\\ 183 285\\ 184 268\\ 186 255\\ 187 290\\ 188 272\\ 190 262\\ 191 280\\
192 295\\ 194 272\\ 195 288\\ 197 262\\ 198 300\\ 200 282\\ 202 295\\ 203 270\\ 205 305\\ 206 288\\
208 298\\ 210 312\\ 211 285\\ 213 302\\ 215 318\\ 216 295\\ 218 308\\ 220 325\\ 221 298\\ 223 312\\
225 330\\ 226 305\\ 228 318\\ 230 338\\ 232 322\\ 233 305\\ 235 345\\ 237 328\\ 239 340\\ 240 318\\
242 352\\ 244 332\\ 246 358\\ 248 340\\ 250 348\\ 252 365\\ 255 345\\ 257 372\\ 260 355\\ 262 380\\
265 362\\ 268 388\\ 270 370\\ 273 395\\ 276 378\\ 280 402\\ 284 388\\ 288 410\\ 292 398\\ 296 420\\
300 408\\ 305 428\\ 310 422\\ 315 440\\ 320 445\\ 325 450\\
55 75\\ 70.6 51\\ 86 57\\ 63 63\\ 98.4 38.5\\ 111 108\\ 135.7 101.6\\ 108 88\\ 95 92\\ 45 48\\
58 55\\ 80 70\\ 90 78\\ 120 118\\ 140 148\\ 4 30\\ 7 25\\ 12 28\\ 18 30\\ 23 42\\
5 60\\ 5.4 67\\ 5.4 98.6\\ 5.4 124\\ 7 150\\ 8 175\\ 10 178\\ 7.6 209\\ 12 195\\ 14.3 205\\
9 220\\ 11 185\\ 13 160\\ 6 140\\ 6 110\\
25.6 239\\ 66 237.5\\ 75 244\\ 76 232\\ 180.6 105\\ 158 332\\ 279.5 476\\ 286 470\\ 313 436.6\\ 309 405\\
286.6 405\\ 277 361\\ 264 342\\ 272.7 421\\ 254.8 427\\ 250 395\\ 240 375\\ 230 360\\ 262 315\\ 245 310\\
}\dataF

\newcommand{\annfont}{\fontsize{10.5}{12}\selectfont}
\newcommand{\labfont}{\fontsize{12}{14}\selectfont}
\newcommand{\Rsq}[1]{\textit{R}\raisebox{0.42em}{\fontsize{7.4}{8}\selectfont 2}\hspace{0.4em}=\hspace{0.4em}#1}
\newcommand{\ylab}{(\textit{q}\textsubscript{\textit{coil}}\hspace{0.22em}−\hspace{0.22em}Σ\textit{q}\textsubscript{\textit{zone}})/\textit{cρv}\textsubscript{\textit{coil}}}
\newcommand{\ann}[3]{%
  \node[anchor=base west, font=\annfont, inner sep=0pt] at (rel axis cs:0.054,0.898) {\Rsq{#1}};
  \node[anchor=base west, font=\annfont, inner sep=0pt] at (rel axis cs:0.054,0.797) {slope = #2};
  \node[anchor=base west, font=\annfont, inner sep=0pt] at (rel axis cs:0.054,0.699) {intcp. = #3};}

\pgfplotsset{
  panel/.style={
    width=132.5pt, height=132.5pt, scale only axis, anchor=south west,
    axis line style={line width=0.8pt, black},
    every tick/.style={black, line width=0.8pt},
    major tick length=3.5pt, tick align=outside, tick pos=left,
    tick label style={font=\fontsize{11}{13}\selectfont},
    xmin=-15, xmax=15, xtick={-10,0,10}, xticklabels={−10,0,10},
  },
  dots/.style={only marks, mark=*, mark size=0.72pt, mark options={draw=none, fill=black}},
  fit/.style={red, line width=1.8pt},
}

\begin{document}
\begin{tikzpicture}
\path[use as bounding box] (0,0) rectangle (603pt,405pt);

% A
\begin{axis}[panel, at={(57pt,251.5pt)}, ymin=-2.9, ymax=5.46,
  ytick={-2,0,2,4}, yticklabels={−2,0,2,4}]
\addplot[dots] table {\dataA};
\addplot[fit] coordinates {(-3.65,-2.40) (8.33,3.71)};
\ann{0.93}{0.51}{-0.54}
\end{axis}

% B
\begin{axis}[panel, at={(255.35pt,251.5pt)}, ymin=-3.7, ymax=6.6,
  ytick={-2.5,0,2.5,5}, yticklabels={−2.5,0.0,2.5,5.0}]
\addplot[dots] table {\dataB};
\addplot[fit] coordinates {(-5.3,-2.71) (8.9,3.40)};
\ann{0.80}{0.43}{-0.43}
\end{axis}

% C
\begin{axis}[panel, at={(453.65pt,251.5pt)}, ymin=-3.57, ymax=5.22,
  ytick={-2,0,2,4}, yticklabels={−2,0,2,4}]
\addplot[dots] table {\dataC};
\addplot[fit] coordinates {(-2.85,-2.63) (7.6,2.49)};
\ann{0.76}{0.49}{-1.23}
\end{axis}

% D
\begin{axis}[panel, at={(57pt,39.5pt)}, ymin=-4.86, ymax=6.63,
  ytick={-2.5,0,2.5,5}, yticklabels={−2.5,0.0,2.5,5.0}]
\addplot[dots] table {\dataD};
\addplot[fit] coordinates {(-3.8,-3.33) (6.97,5.07)};
\ann{0.81}{0.78}{-0.37}
\end{axis}

% E
\begin{axis}[panel, at={(255.35pt,39.5pt)}, ymin=-3.72, ymax=7.05,
  ytick={-2.5,0,2.5,5}, yticklabels={−2.5,0.0,2.5,5.0}]
\addplot[dots] table {\dataE};
\addplot[fit] coordinates {(-4.45,-2.445) (9.55,4.555)};
\ann{0.76}{0.50}{-0.22}
\end{axis}

% F
\begin{axis}[panel, at={(453.65pt,39.5pt)}, xmin=-16.2, xmax=340, ymin=-3.2, ymax=499,
  xtick={0,200}, xticklabels={0,200}, ytick={0,200,400}, yticklabels={0,200,400}]
\addplot[dots] table {\dataF};
\addplot[blue, line width=1pt] coordinates {(0,29.8) (325,439.3)};
\ann{0.92}{1.26}{29.80}
\end{axis}

% panel letters
\foreach \L/\x/\y in {A/36.35/391.65, B/236.35/391.65, C/437.5/391.65, D/36.35/179.2, E/236.35/179.2, F/439.15/179.2}
  \node[anchor=base west, inner sep=0pt, font=\labfont\bfseries] at (\x pt,\y pt) {\L};
% titles
\foreach \T/\x/\y in {AHU 1/123.25/390.85, AHU 2/321.85/390.85, AHU 3/519.75/390.85, AHU 4/123.25/178.65, AHU 5/321.85/178.65, Building/519.75/178.65}
  \node[anchor=base, inner sep=0pt, font=\labfont\bfseries] at (\x pt,\y pt) {\T};
% x labels
\foreach \x/\y in {123.35/215.85, 321.65/215.85, 519.65/215.85, 123.35/5, 321.65/5}
  \node[anchor=base, inner sep=0pt, font=\labfont] at (\x pt,\y pt) {OAT-RAT (°C)};
\node[anchor=base, inner sep=0pt, font=\labfont] at (520pt,5pt) {Agg. coil cooling load (kW)};
% y labels
\foreach \x/\y in {26.65/317.75, 215.85/317.75, 425/317.75, 15.85/105.75, 215.85/105.75}
  \node[anchor=base, rotate=90, inner sep=0pt, font=\labfont] at (\x pt,\y pt) {\ylab};
\node[anchor=base, rotate=90, inner sep=0pt, font=\labfont] at (402.25pt,105.75pt) {Measured building-level};
\node[anchor=base, rotate=90, inner sep=0pt, font=\labfont] at (416.65pt,105.75pt) {cooling load (kW)};
\end{tikzpicture}
\end{document}
